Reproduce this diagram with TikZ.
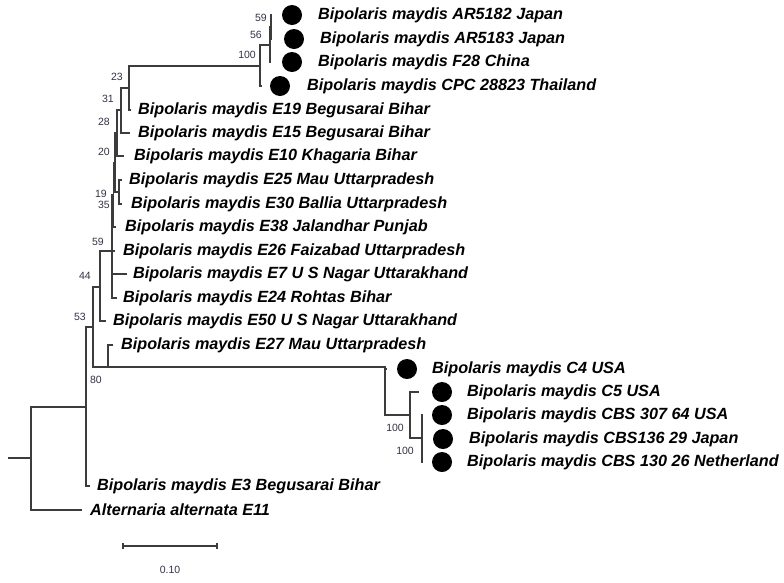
\documentclass[tikz,border=0pt]{standalone}
\usepackage{fontspec}
\setmainfont{Liberation Sans}
\definecolor{bscol}{RGB}{50,50,70}
\definecolor{brcol}{RGB}{60,60,60}
\begin{document}
\begin{tikzpicture}[x=1pt,y=-1pt,
  br/.style={draw=brcol, line width=1.1pt},
  taxon/.style={anchor=west, font=\fontsize{16.2}{18}\selectfont\bfseries\itshape, inner sep=0pt},
  bs/.style={anchor=east, font=\fontsize{10.5}{12}\selectfont, text=bscol, inner sep=0pt},
  blob/.style={circle, fill=black, minimum size=20pt, inner sep=0pt}]
\useasboundingbox (0,0) rectangle (784,582);

% ---- taxa texts ----
\node[taxon] (t1)  at (318,15)  {Bipolaris maydis AR5182 Japan};
\node[taxon] (t2)  at (320,39)  {Bipolaris maydis AR5183 Japan};
\node[taxon] (t3)  at (318,62)  {Bipolaris maydis F28 China};
\node[taxon] (t4)  at (307,86)  {Bipolaris maydis CPC 28823 Thailand};
\node[taxon] (t5)  at (138,110) {Bipolaris maydis E19 Begusarai Bihar};
\node[taxon] (t6)  at (138,133) {Bipolaris maydis E15 Begusarai Bihar};
\node[taxon] (t7)  at (134,156) {Bipolaris maydis E10 Khagaria Bihar};
\node[taxon] (t8)  at (129,180) {Bipolaris maydis E25 Mau Uttarpradesh};
\node[taxon] (t9)  at (131,204) {Bipolaris maydis E30 Ballia Uttarpradesh};
\node[taxon] (t10) at (125,227) {Bipolaris maydis E38 Jalandhar Punjab};
\node[taxon] (t11) at (123,251) {Bipolaris maydis E26 Faizabad Uttarpradesh};
\node[taxon] (t12) at (133,274) {Bipolaris maydis E7 U S Nagar Uttarakhand};
\node[taxon] (t13) at (123,298) {Bipolaris maydis E24 Rohtas Bihar};
\node[taxon] (t14) at (113,321) {Bipolaris maydis E50 U S Nagar Uttarakhand};
\node[taxon] (t15) at (121,345) {Bipolaris maydis E27 Mau Uttarpradesh};
\node[taxon] (t16) at (432,369) {Bipolaris maydis C4 USA};
\node[taxon] (t17) at (467,392) {Bipolaris maydis C5 USA};
\node[taxon] (t18) at (467,415) {Bipolaris maydis CBS 307 64 USA};
\node[taxon] (t19) at (469,439) {Bipolaris maydis CBS136 29 Japan};
\node[taxon] (t20) at (467,462) {Bipolaris maydis CBS 130 26 Netherland};
\node[taxon] (t21) at (97,486)  {Bipolaris maydis E3 Begusarai Bihar};
\node[taxon] (t22) at (90,510)  {Alternaria alternata E11};

% ---- markers ----
\node[blob] (d1)  at (292,15)  {};
\node[blob] (d2)  at (294,39)  {};
\node[blob] (d3)  at (292,62)  {};
\node[blob] (d4)  at (280,86)  {};
\node[blob] (d16) at (407,369) {};
\node[blob] (d17) at (442,392) {};
\node[blob] (d18) at (442,415) {};
\node[blob] (d19) at (443,439) {};
\node[blob] (d20) at (442,462) {};

% ---- leaf tips ----
\coordinate (l1)  at (272,15);
\coordinate (l2)  at (272,39);
\coordinate (l3)  at (271,62);
\coordinate (l4)  at (262,86);
\coordinate (l5)  at (131,110);
\coordinate (l6)  at (130,133);
\coordinate (l7)  at (124,156);
\coordinate (l8)  at (122,180);
\coordinate (l9)  at (122,204);
\coordinate (l10) at (116,227);
\coordinate (l11) at (115,251);
\coordinate (l12) at (127,274);
\coordinate (l13) at (117,298);
\coordinate (l14) at (106,321);
\coordinate (l15) at (113,345);
\coordinate (l16) at (387,369);
\coordinate (l17) at (419,392);
\coordinate (l18) at (423,415);
\coordinate (l19) at (423,439);
\coordinate (l20) at (423,462);
\coordinate (l21) at (90,486);
\coordinate (l22) at (82,510);

% ---- internal nodes ----
\coordinate (n59a) at (271,27);
\coordinate (n56)  at (270,45);
\coordinate (n100a) at (260,66);
\coordinate (n23)  at (129,88);
\coordinate (n31)  at (121,110);
\coordinate (n28)  at (117,133);
\coordinate (n20)  at (115,163);
\coordinate (n19)  at (119,192);
\coordinate (n35)  at (113.5,195);
\coordinate (n59b) at (112,251);
\coordinate (n44)  at (100,287);
\coordinate (n53)  at (93,327);
\coordinate (n80)  at (108,367);
\coordinate (nU1)  at (385,392);
\coordinate (nU2)  at (410,415);
\coordinate (nU3)  at (422,438);
\coordinate (nE3)  at (86,407);
\coordinate (nroot) at (31,458);
\coordinate (stub) at (8,458);

% ---- branches ----
\draw[br] (l1) -| (n59a) |- (l2);
\draw[br] (n59a) -| (n56) |- (l3);
\draw[br] (n56) -| (n100a) |- (l4);
\draw[br] (n100a) -| (n23) |- (l5);
\draw[br] (n23) -| (n31) |- (l6);
\draw[br] (n31) -| (n28) |- (l7);
\draw[br] (l8) -| (n19) |- (l9);
\draw[br] (n28) -| (n20) |- (n19);
\draw[br] (n20) -| (n35) |- (l10);
\draw[br] (n35) -| (n59b) |- (l13);
\draw[br] (n59b) -- (l11);
\draw[br] (n59b |- l12) -- (l12);
\draw[br] (n59b) -| (n44) |- (l14);
\draw[br] (n44) -| (n53) |- (n80);
\draw[br] (l15) -| (n80);
\draw[br] (n80) -| (nU1);
\draw[br] (l16) -| (nU1) |- (nU2);
\draw[br] (l17) -| (nU2) |- (nU3);
\draw[br] (l18) -| (nU3) |- (l20);
\draw[br] (nU3 |- l19) -- (l19);
\draw[br] (n53) -| (nE3) |- (l21);
\draw[br] (nE3) -| (nroot) |- (l22);
\draw[br] (stub) -- (nroot);

% ---- bootstrap values ----
\node[bs] (b1)  at (267,18)  {59};
\node[bs] (b2)  at (262,35)  {56};
\node[bs] (b3)  at (256,55)  {100};
\node[bs] (b4)  at (123,77)  {23};
\node[bs] (b5)  at (114,99)  {31};
\node[bs] (b6)  at (110,122) {28};
\node[bs] (b7)  at (110,152) {20};
\node[bs] (b8)  at (107,193.5) {19};
\node[bs] (b9)  at (110,205) {35};
\node[bs] (b10) at (104,242) {59};
\node[bs] (b11) at (91,276)  {44};
\node[bs] (b12) at (86,317)  {53};
\node[bs] (b13) at (102,380) {80};
\node[bs] (b14) at (404,428) {100};
\node[bs] (b15) at (414,451) {100};

% ---- scale bar ----
\coordinate (s1) at (123,546);
\coordinate (s2) at (217,546);
\draw[br] (s1) -- (s2);
\draw[br] ([yshift=-3pt]s1) -- ([yshift=3pt]s1);
\draw[br] ([yshift=-3pt]s2) -- ([yshift=3pt]s2);
\node[font=\fontsize{10.5}{12}\selectfont, text=bscol, inner sep=0pt] (sl) at (170,570) {0.10};
\end{tikzpicture}
\end{document}
